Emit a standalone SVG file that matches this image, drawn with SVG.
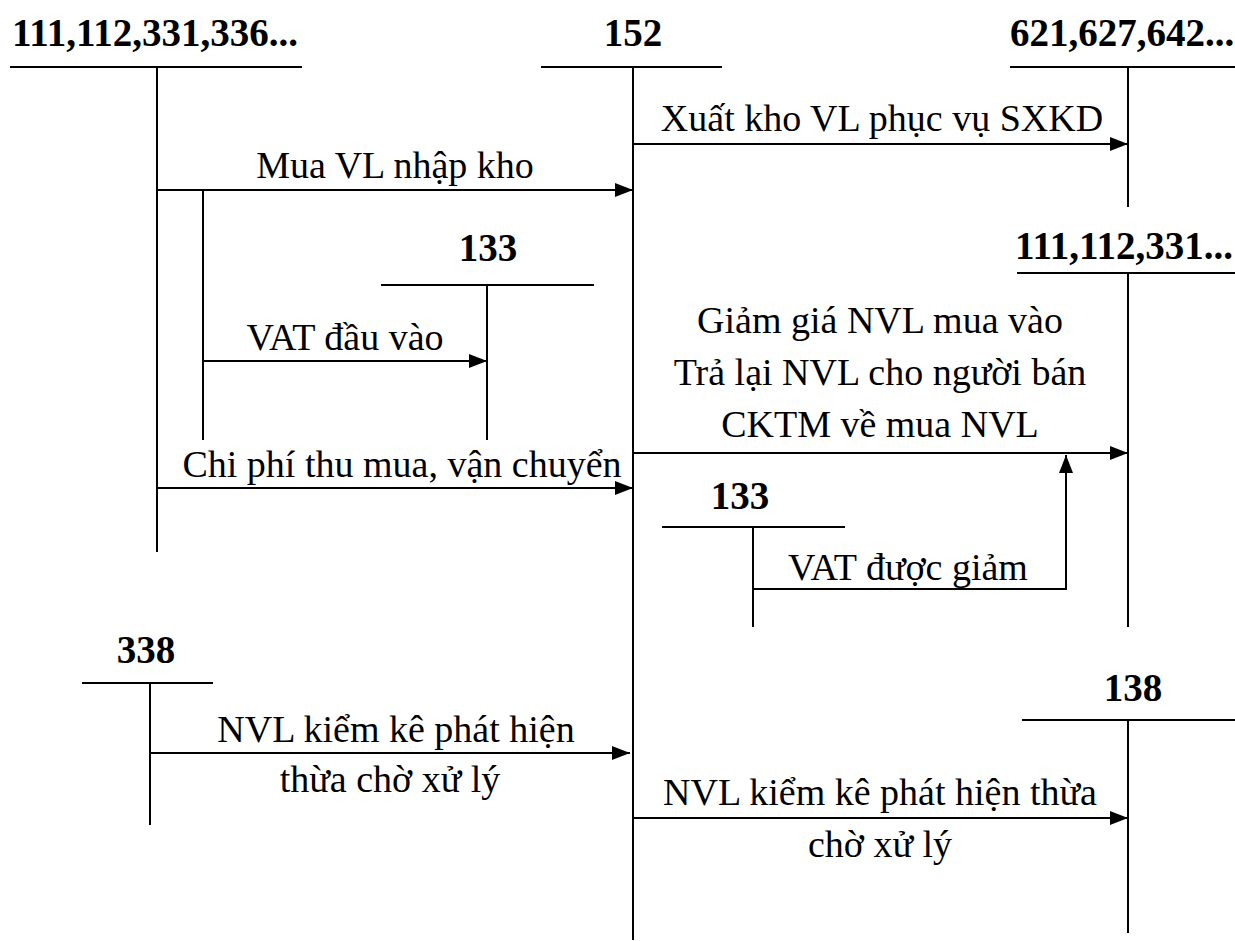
<svg xmlns="http://www.w3.org/2000/svg" width="1235" height="941" viewBox="0 0 1235 941">
<style>
.t{font-family:"Liberation Serif","Times New Roman",serif;font-size:38px;fill:#000;text-anchor:middle}
.b{font-weight:bold;font-size:39px}
.ln{stroke:#000;stroke-width:2;fill:none}
</style>
<defs>
<marker id="ah" markerWidth="18" markerHeight="14" refX="18" refY="7" orient="auto" markerUnits="userSpaceOnUse">
<path d="M0,0 L18,7 L0,14 Z" fill="#000"/>
</marker>
</defs>
<rect width="1235" height="941" fill="#fff"/>
<g id="acc-111-336">
<text class="t b" x="155" y="46">111,112,331,336...</text>
<line class="ln" x1="10" y1="67" x2="302" y2="67"/>
<line class="ln" x1="157" y1="67" x2="157" y2="552"/>
</g>
<g id="acc-152">
<text class="t b" x="633" y="46">152</text>
<line class="ln" x1="541" y1="67" x2="722" y2="67"/>
<line class="ln" x1="633" y1="67" x2="633" y2="940"/>
</g>
<g id="acc-621">
<text class="t b" x="1122" y="46">621,627,642...</text>
<line class="ln" x1="1010" y1="67" x2="1235" y2="67"/>
<line class="ln" x1="1128" y1="67" x2="1128" y2="207"/>
</g>
<g id="acc-133a">
<text class="t b" x="488" y="261">133</text>
<line class="ln" x1="381" y1="285" x2="594" y2="285"/>
<line class="ln" x1="487" y1="285" x2="487" y2="440"/>
</g>
<g id="acc-111-331">
<text class="t b" x="1124" y="259">111,112,331...</text>
<line class="ln" x1="1017" y1="273" x2="1235" y2="273"/>
<line class="ln" x1="1128" y1="273" x2="1128" y2="627"/>
</g>
<g id="acc-133b">
<text class="t b" x="740" y="509">133</text>
<line class="ln" x1="662" y1="527" x2="845" y2="527"/>
<line class="ln" x1="753" y1="527" x2="753" y2="627"/>
</g>
<g id="acc-338">
<text class="t b" x="146" y="663">338</text>
<line class="ln" x1="82" y1="683" x2="213" y2="683"/>
<line class="ln" x1="150" y1="683" x2="150" y2="825"/>
</g>
<g id="acc-138">
<text class="t b" x="1133" y="701">138</text>
<line class="ln" x1="1022" y1="720" x2="1235" y2="720"/>
<line class="ln" x1="1128" y1="720" x2="1128" y2="933"/>
</g>
<g id="connectors">
<line class="ln" x1="633" y1="144" x2="1128" y2="144" marker-end="url(#ah)"/>
<line class="ln" x1="157" y1="190" x2="633" y2="190" marker-end="url(#ah)"/>
<line class="ln" x1="203" y1="190" x2="203" y2="440"/>
<line class="ln" x1="203" y1="361" x2="487" y2="361" marker-end="url(#ah)"/>
<line class="ln" x1="157" y1="488" x2="633" y2="488" marker-end="url(#ah)"/>
<line class="ln" x1="633" y1="453" x2="1128" y2="453" marker-end="url(#ah)"/>
<polyline class="ln" points="753,589 1066,589 1066,455" marker-end="url(#ah)"/>
<line class="ln" x1="150" y1="753" x2="630" y2="753" marker-end="url(#ah)"/>
<line class="ln" x1="633" y1="818" x2="1128" y2="818" marker-end="url(#ah)"/>
</g>
<g id="labels">
<text class="t" x="882" y="131">Xuất kho VL phục vụ SXKD</text>
<text class="t" x="395" y="178">Mua VL nhập kho</text>
<text class="t" x="345" y="350">VAT đầu vào</text>
<text class="t" x="402" y="477">Chi phí thu mua, vận chuyển</text>
<text class="t" x="880" y="333">Giảm giá NVL mua vào</text>
<text class="t" x="880" y="385">Trả lại NVL cho người bán</text>
<text class="t" x="880" y="437">CKTM về mua NVL</text>
<text class="t" x="908" y="580">VAT được giảm</text>
<text class="t" x="396" y="742">NVL kiểm kê phát hiện</text>
<text class="t" x="390" y="792">thừa chờ xử lý</text>
<text class="t" x="880" y="805">NVL kiểm kê phát hiện thừa</text>
<text class="t" x="880" y="857">chờ xử lý</text>
</g>
</svg>
